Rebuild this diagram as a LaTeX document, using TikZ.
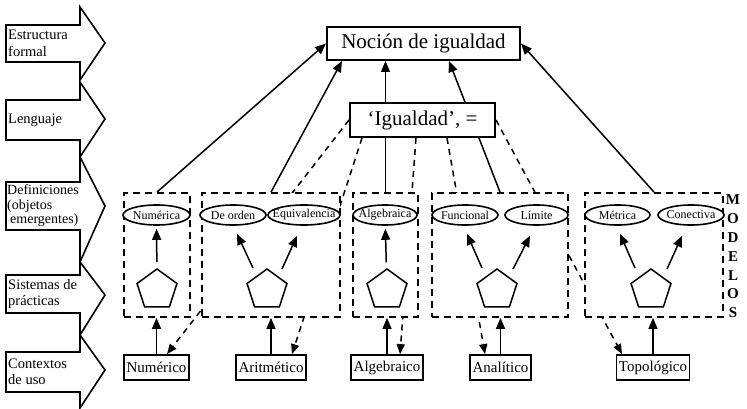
\documentclass[tikz,border=0pt]{standalone}
\usepackage{fontspec}
\setmainfont{Liberation Serif}
\usetikzlibrary{arrows.meta,shapes.geometric}
\pgfdeclarelayer{back}
\pgfsetlayers{back,main}
\newcommand{\conceptname}[1]{\makebox[0pt]{#1}}

\tikzset{
  arr/.style={line width=1.5pt, -{Triangle[length=11pt,width=9pt]}},
  dasharr/.style={line width=1.5pt, dash pattern=on 6pt off 5pt, -{Triangle[length=10pt,width=8pt]}},
  stage/.style={line width=1.6pt},
  stagetext/.style={anchor=west, align=left, inner sep=0pt, font=\rmfamily\fontsize{14.5}{16.5}\selectfont},
  modelbox/.style={draw, line width=1.8pt, dash pattern=on 7pt off 5pt, fill=white, minimum height=124pt, inner sep=0pt},
  concept/.style={draw, ellipse, line width=1.6pt, fill=white, minimum height=20pt, inner sep=0pt, font=\rmfamily\fontsize{12}{13}\selectfont},
  practice/.style={draw, regular polygon, regular polygon sides=5, minimum size=42pt, line width=1.5pt, inner sep=0pt},
  context/.style={draw, line width=1.8pt, fill=white, minimum height=25pt, inner xsep=2.5pt, inner ysep=0pt, font=\rmfamily\fontsize{15}{17}\selectfont},
  mainbox/.style={draw, line width=2pt, fill=white, inner sep=0pt, font=\rmfamily\fontsize{21}{24}\selectfont}
}

\begin{document}
\begin{tikzpicture}[x=1pt,y=-1pt]
    \useasboundingbox (0,0) rectangle (747,409);
    % Levels on the left
    \draw[stage] (6, 25) -- (80, 25) -- (80,  7) -- (105, 43) -- (80, 80) -- (80, 62) -- (6, 62) -- cycle;
    \draw[stage] (6,100) -- (80,100) -- (80, 82) -- (105,119) -- (80,157) -- (80,140) -- (6,140) -- cycle;
    \draw[stage] (6,182) -- (80,182) -- (80,157) -- (105,206) -- (80,262) -- (80,230) -- (6,230) -- cycle;
    \draw[stage] (6,275) -- (80,275) -- (80,262) -- (105,295) -- (80,335) -- (80,313) -- (6,313) -- cycle;
    \draw[stage] (6,352) -- (80,352) -- (80,335) -- (105,370) -- (80,408) -- (80,392) -- (6,392) -- cycle;
    \node[stagetext] (lvlformal)   at (8, 43.5) {Estructura\\formal};
    \node[stagetext] (lvllenguaje) at (8,120)   {Lenguaje};
    \node[stagetext, font=\rmfamily\fontsize{14}{14.5}\selectfont] (lvldefs) at (7,206) {Definiciones\\(objetos\\\hspace*{3pt}emergentes)};
    \node[stagetext] (lvlpracticas) at (8,294)  {Sistemas de\\prácticas};
    \node[stagetext] (lvlcontextos) at (8,372)  {Contextos\\de uso};

    % Notion and sign
    \node[mainbox, minimum width=193pt, minimum height=33pt] (nocion) at (423.5, 43.5) {Noción de igualdad};
    \node[mainbox, minimum width=145pt, minimum height=34pt] (signo)  at (422.5,120)   {‘Igualdad’, =};

    % Models
    \node[modelbox, minimum width=66pt]  (mod1) at (157,  255) {};
    \node[modelbox, minimum width=138pt] (mod2) at (271,  255) {};
    \node[modelbox, minimum width=65pt]  (mod3) at (385.5,255) {};
    \node[modelbox, minimum width=136pt] (mod4) at (500,  255) {};
    \node[modelbox, minimum width=138pt] (mod5) at (654,  255) {};
    \node[font=\rmfamily\bfseries\fontsize{15}{18.8}\selectfont, align=center, inner sep=0pt] (modelos) at (733,256.5) {M\\O\\D\\E\\L\\O\\S};

    % Definitions
    \node[concept, minimum width=67pt] (numerica)  at (156.5,215) {\conceptname{Numérica}};
    \node[concept, minimum width=66pt] (deorden)   at (233,  215) {\conceptname{De orden}};
    \node[concept, minimum width=72pt] (equiv)     at (304,  215) {\conceptname{Equivalencia}};
    \node[concept, minimum width=64pt] (algebr)    at (385,  215) {\conceptname{Algebraica}};
    \node[concept, minimum width=66pt] (funcional) at (465,  215) {\conceptname{Funcional}};
    \node[concept, minimum width=63pt] (limite)    at (536.5,215) {\conceptname{Límite}};
    \node[concept, minimum width=65pt] (metrica)   at (617.5,215) {\conceptname{Métrica}};
    \node[concept, minimum width=66pt] (conectiva) at (691,  215) {\conceptname{Conectiva}};

    % Systems of practices
    \node[practice] (prac1) at (157,290) {};
    \node[practice] (prac2) at (267,290) {};
    \node[practice] (prac3) at (387,290) {};
    \node[practice] (prac4) at (497,290) {};
    \node[practice] (prac5) at (651,290) {};
    \draw[arr, shorten <=6pt, shorten >=3pt] (prac1) -- (numerica);
    \draw[arr, shorten <=6pt, shorten >=3pt] (prac3) -- (algebr);
    \draw[arr] ([xshift=-14pt]prac2.north) -- ([xshift=4pt,yshift=-8pt]deorden.south);
    \draw[arr] ([xshift=15pt,yshift=-1pt]prac2.north) -- ([xshift=-7pt,yshift=-10pt]equiv.south);
    \draw[arr] ([xshift=-15pt]prac4.north) -- ([xshift=2pt,yshift=-8pt]funcional.south);
    \draw[arr] ([xshift=16pt,yshift=-1pt]prac4.north) -- ([xshift=-6.5pt,yshift=-10pt]limite.south);
    \draw[arr] ([xshift=-16pt]prac5.north) -- ([xshift=2.5pt,yshift=-8pt]metrica.south);
    \draw[arr] ([xshift=16pt,yshift=-1pt]prac5.north) -- ([xshift=-9pt,yshift=-10pt]conectiva.south);

    % Contexts of use
    \node[context] (ctxnum) at (156.5,367.5) {Numérico};
    \node[context] (ctxari) at (271,  367.5) {Aritmético};
    \node[context] (ctxalg) at (387,  367.5) {Algebraico};
    \node[context] (ctxana) at (500.5,367.5) {Analítico};
    \node[context] (ctxtop) at (653,  367.5) {Topológico};
    \draw[arr] (ctxnum) -- (ctxnum |- mod1.south);
    \draw[arr] (ctxari) -- (ctxari |- mod2.south);
    \draw[arr] (ctxalg) -- (ctxalg |- mod3.south);
    \draw[arr] (ctxana) -- (ctxana |- mod4.south);
    \draw[arr] (ctxtop) -- (ctxtop |- mod5.south);

    \begin{pgfonlayer}{back}
        % Models up to the notion
        \draw[arr] (mod1.north) -- (nocion.west);
        \draw[arr] (mod2.north) -- ([xshift=16pt]nocion.south west);
        \draw[arr] (mod3.north) -- (mod3.north |- nocion.south);
        \draw[arr] (mod4.north) -- ([xshift=123pt]nocion.south west);
        \draw[arr] (mod5.north) -- (nocion.east);
        % Sign down to the contexts
        \draw[dasharr] (signo.west) -- ([xshift=10.5pt]ctxnum.north);
        \draw[dasharr] ([xshift=13pt]signo.south west) -- ([xshift=21pt]ctxari.north);
        \draw[dasharr] ([xshift=67pt]signo.south west) -- ([xshift=13pt]ctxalg.north);
        \draw[dasharr] ([xshift=98pt]signo.south west) -- ([xshift=-15.5pt]ctxana.north);
        \draw[dasharr] (signo.east) -- ([xshift=-31pt]ctxtop.north);
    \end{pgfonlayer}
\end{tikzpicture}
\end{document}
